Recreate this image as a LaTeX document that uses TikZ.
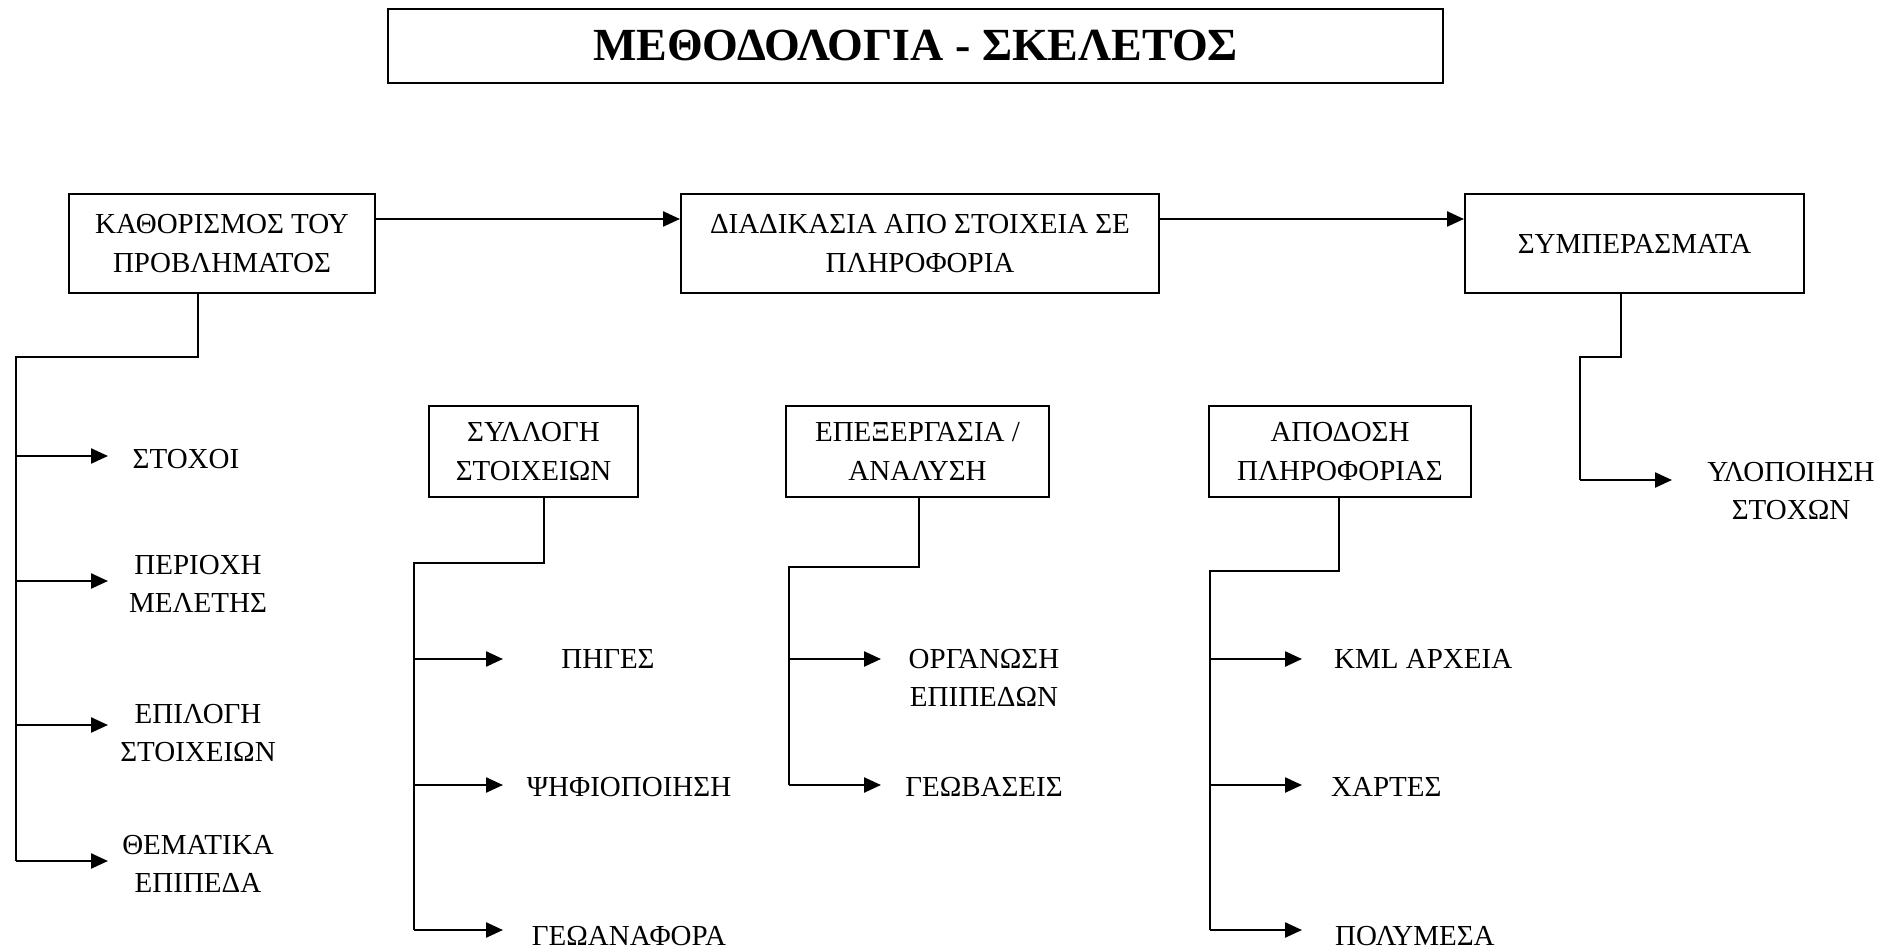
\documentclass[tikz,border=0pt]{standalone}
\usepackage{fontspec}
\setmainfont{Liberation Serif}
\usetikzlibrary{arrows.meta}

\tikzset{
  blk/.style={draw, line width=2pt, align=center, inner sep=0pt,
              font=\fontsize{29}{38.5}\selectfont},
  lbl/.style={align=center, inner sep=0pt, font=\fontsize{29}{38.5}\selectfont},
  wire/.style={line width=2.4pt},
  arr/.style={line width=2.4pt, -{Triangle[length=17pt,width=15pt]}},
}

\begin{document}
\begin{tikzpicture}[x=1pt, y=-1pt]
\useasboundingbox (0,0) rectangle (1897,949);
\fill[white] (0,0) rectangle (1897,949);

% title
\node[draw, line width=2pt, minimum width=1055pt, minimum height=74pt, inner sep=0pt,
      font=\fontsize{46}{50}\selectfont\bfseries] (title) at (915.5,46)
      {ΜΕΘΟΔΟΛΟΓΙΑ - ΣΚΕΛΕΤΟΣ};

% main row
\node[blk, minimum width=306pt, minimum height=99pt] (kath) at (222,243.5)
      {ΚΑΘΟΡΙΣΜΟΣ ΤΟΥ\\ΠΡΟΒΛΗΜΑΤΟΣ};
\node[blk, minimum width=478pt, minimum height=99pt] (diad) at (920,243.5)
      {ΔΙΑΔΙΚΑΣΙΑ ΑΠΟ ΣΤΟΙΧΕΙΑ ΣΕ\\ΠΛΗΡΟΦΟΡΙΑ};
\node[blk, minimum width=339pt, minimum height=99pt] (symp) at (1634.5,243.5)
      {ΣΥΜΠΕΡΑΣΜΑΤΑ};

\coordinate (row) at (0,219);
\draw[arr] (kath.east |- row) -- (diad.west |- row);
\draw[arr] (diad.east |- row) -- (symp.west |- row);

% second row boxes
\node[blk, minimum width=209pt, minimum height=91pt] (syll) at (533.5,451.5)
      {ΣΥΛΛΟΓΗ\\ΣΤΟΙΧΕΙΩΝ};
\node[blk, minimum width=263pt, minimum height=91pt] (epex) at (917.5,451.5)
      {ΕΠΕΞΕΡΓΑΣΙΑ /\\ΑΝΑΛΥΣΗ};
\node[blk, minimum width=262pt, minimum height=91pt] (apod) at (1340,451.5)
      {ΑΠΟΔΟΣΗ\\ΠΛΗΡΟΦΟΡΙΑΣ};

% branch under the problem definition
\node[lbl] (stoxoi) at (186,459) {ΣΤΟΧΟΙ};
\node[lbl] (perioxi) at (198,584) {ΠΕΡΙΟΧΗ\\ΜΕΛΕΤΗΣ};
\node[lbl] (epilogi) at (198,733) {ΕΠΙΛΟΓΗ\\ΣΤΟΙΧΕΙΩΝ};
\node[lbl] (thema) at (198,864) {ΘΕΜΑΤΙΚΑ\\ΕΠΙΠΕΔΑ};
\coordinate (k1) at (198,357);
\coordinate (k0) at (16,357);
\coordinate (ka1) at (108,456);
\coordinate (ka2) at (108,581);
\coordinate (ka3) at (108,725);
\coordinate (ka4) at (108,861);
\draw[wire] (k1 |- kath.south) -- (k1) -- (k0) -- (k0 |- ka4);
\foreach \t in {ka1,ka2,ka3,ka4} \draw[arr] (k0 |- \t) -- (\t);

% branch under data collection
\node[lbl] (piges) at (608,659) {ΠΗΓΕΣ};
\node[lbl] (psif) at (629,787) {ΨΗΦΙΟΠΟΙΗΣΗ};
\node[lbl] (geoan) at (629,936.5) {ΓΕΩΑΝΑΦΟΡΑ};
\coordinate (s1) at (544,563);
\coordinate (s0) at (414,563);
\coordinate (sa1) at (503,659);
\coordinate (sa2) at (503,785);
\coordinate (sa3) at (503,930);
\draw[wire] (s1 |- syll.south) -- (s1) -- (s0) -- (s0 |- sa3);
\foreach \t in {sa1,sa2,sa3} \draw[arr] (s0 |- \t) -- (\t);

% branch under processing / analysis
\node[lbl] (organ) at (984,678) {ΟΡΓΑΝΩΣΗ\\ΕΠΙΠΕΔΩΝ};
\node[lbl] (geob) at (984,787) {ΓΕΩΒΑΣΕΙΣ};
\coordinate (e1) at (919,567);
\coordinate (e0) at (789,567);
\coordinate (ea1) at (881,659);
\coordinate (ea2) at (881,785);
\draw[wire] (e1 |- epex.south) -- (e1) -- (e0) -- (e0 |- ea2);
\foreach \t in {ea1,ea2} \draw[arr] (e0 |- \t) -- (\t);

% branch under information delivery
\node[lbl, anchor=west] (kml) at (1334,659) {KML ΑΡΧΕΙΑ};
\node[lbl, anchor=west] (xartes) at (1331,787) {ΧΑΡΤΕΣ};
\node[lbl, anchor=west] (polym) at (1335,936.5) {ΠΟΛΥΜΕΣΑ};
\coordinate (a1) at (1339,571);
\coordinate (a0) at (1210,571);
\coordinate (aa1) at (1302,659);
\coordinate (aa2) at (1302,785);
\coordinate (aa3) at (1302,930);
\draw[wire] (a1 |- apod.south) -- (a1) -- (a0) -- (a0 |- aa3);
\foreach \t in {aa1,aa2,aa3} \draw[arr] (a0 |- \t) -- (\t);

% branch under conclusions
\node[lbl] (ylop) at (1791,491) {ΥΛΟΠΟΙΗΣΗ\\ΣΤΟΧΩΝ};
\coordinate (c1) at (1621,357);
\coordinate (c0) at (1580,357);
\coordinate (ca) at (1672,480);
\draw[wire] (c1 |- symp.south) -- (c1) -- (c0) -- (c0 |- ca);
\draw[arr] (c0 |- ca) -- (ca);
\end{tikzpicture}
\end{document}
